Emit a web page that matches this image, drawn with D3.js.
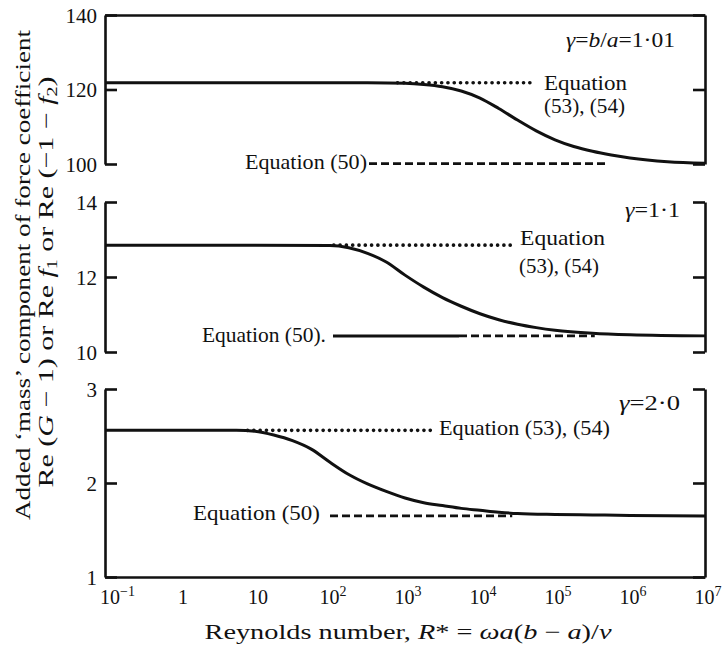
<!DOCTYPE html>
<html><head><meta charset="utf-8">
<script src="https://cdn.jsdelivr.net/npm/d3@7"></script>
<style>
body{margin:0;background:#fff;}
svg{display:block;}
</style></head>
<body>
<svg id="c" width="724" height="648"></svg>
<script>
// ---- data (x as log10 of R*) ----
const xTickExps = [-1,0,1,2,3,4,5,6,7];
const xTickLabels = ["10|-1","1","10","10|2","10|3","10|4","10|5","10|6","10|7"];

// panel 1: gamma = b/a = 1.01
const p1Exp = [-1,0,1,2,2.5,3,3.25,3.5,3.75,4,4.25,4.5,4.75,5,5.25,5.5,5.75,6,6.5,7];
const p1Val = [121.8,121.8,121.8,121.8,121.78,121.65,121.35,120.75,119.6,117.7,114.9,111.8,108.9,106.5,104.7,103.4,102.4,101.6,100.6,100.2];
// panel 2: gamma = 1.1
const p2Exp = [-1,0,1,2,2.25,2.5,2.75,3,3.25,3.5,3.75,4,4.25,4.5,4.75,5,5.5,6,7];
const p2Val = [12.85,12.85,12.85,12.84,12.78,12.63,12.4,12.05,11.73,11.45,11.22,11.02,10.86,10.74,10.65,10.58,10.5,10.46,10.43];
// panel 3: gamma = 2.0
const p3Exp = [-1,0,0.5,0.75,1,1.25,1.5,1.75,2,2.25,2.5,2.75,3,3.25,3.5,3.75,4,4.25,4.5,5,5.5,6,7];
const p3Val = [2.56,2.56,2.56,2.56,2.55,2.51,2.45,2.36,2.22,2.09,1.99,1.91,1.84,1.79,1.76,1.73,1.71,1.69,1.675,1.665,1.66,1.655,1.65];

// asymptote lines: Equation (53),(54) dotted  [fromExp, toExp, level]
const eq5354 = [[2.9,4.7,121.8],[2.05,4.43,12.85],[0.9,3.36,2.56]];
// Equation (50): dashed  [fromExp, toExp, level]
const eq50Dashed = [[2.52,5.72,100.1],[3.72,5.53,10.43],[2.0,4.43,1.65]];
const eq50Solid = [[2.04,3.72,10.43]];

const yTicks1 = [100,120,140], yTicks2 = [10,12,14], yTicks3 = [1,2,3];

// ---- layout ----
const FONT = '"Liberation Serif"';
const svg = d3.select("#c");
const X0 = 105, X1 = 705;
const x = d3.scaleLog().domain([0.1,1e7]).range([X0,X1]);
const ex = e => x(Math.pow(10,e));
const y1 = d3.scaleLinear().domain([100,140]).range([164,15]);
const y2 = d3.scaleLinear().domain([10,14]).range([352,202]);
const y3 = d3.scaleLinear().domain([1,3]).range([577,389]);
const ys = [y1,y2,y3];

const AX = "#111", AW = 2.6;
function T(sel){ return sel.style("font-family",FONT).attr("fill","#111"); }

function leftAxis(y, ticks, labels){
  const g = svg.append("g").attr("transform",`translate(${X0},0)`)
    .call(d3.axisLeft(y).tickValues(ticks).tickSize(-12).tickSizeOuter(0).tickPadding(8)
      .tickFormat((d,i)=>labels[i]));
  g.attr("font-family",null).attr("font-size",null);
  g.select(".domain").attr("stroke",AX).attr("stroke-width",AW);
  g.selectAll(".tick line").attr("stroke",AX).attr("stroke-width",AW);
  T(g.selectAll(".tick text")).attr("font-size",21).attr("dy","0.34em");
  return g;
}
function rightAxis(y, ticks){
  const g = svg.append("g").attr("transform",`translate(${X1},0)`)
    .call(d3.axisRight(y).tickValues(ticks).tickSize(-12).tickSizeOuter(0).tickFormat(""));
  g.select(".domain").attr("stroke",AX).attr("stroke-width",AW);
  g.selectAll(".tick line").attr("stroke",AX).attr("stroke-width",AW);
  return g;
}
leftAxis(y1,yTicks1,["100","120","140"]);
leftAxis(y2,yTicks2,["10","12","14"]);
leftAxis(y3,yTicks3,["1","2","3"]);
rightAxis(y1,yTicks1);
rightAxis(y2,yTicks2);
rightAxis(y3,yTicks3);

// top border of panel 1
const gt = svg.append("g").attr("transform",`translate(0,${y1(140)})`)
  .call(d3.axisTop(x).tickValues([]).tickSizeOuter(0));
gt.select(".domain").attr("stroke",AX).attr("stroke-width",AW);
// bottom axis
const gb = svg.append("g").attr("transform",`translate(0,${y3(1)})`)
  .call(d3.axisBottom(x).tickValues(xTickExps.map(e=>Math.pow(10,e))).tickSize(0).tickSizeOuter(0).tickFormat(""));
gb.select(".domain").attr("stroke",AX).attr("stroke-width",AW);

// x tick labels
xTickLabels.forEach((lab,i)=>{
  const parts = lab.split("|");
  const t = T(svg.append("text")).attr("y",604).attr("font-size",20);
  if(i===0){ t.attr("x",ex(xTickExps[i])-5).attr("text-anchor","start"); }
  else { t.attr("x",ex(xTickExps[i])+3).attr("text-anchor","middle"); }
  t.append("tspan").text(parts[0]);
  if(parts[1]) t.append("tspan").attr("font-size",14).attr("dy",-8).text(parts[1].replace("-","\u2212"));
});

// curves
const line = (y)=>d3.line().x(d=>ex(d[0])).y(d=>y(d[1])).curve(d3.curveMonotoneX);
[[p1Exp,p1Val],[p2Exp,p2Val],[p3Exp,p3Val]].forEach(([e,v],i)=>{
  svg.append("path").datum(e.map((d,j)=>[d,v[j]])).attr("d",line(ys[i]))
    .attr("fill","none").attr("stroke","#111").attr("stroke-width",3);
});
eq5354.forEach((s,i)=>{
  svg.append("path").datum([[s[0],s[2]],[s[1],s[2]]]).attr("d",line(ys[i]))
    .attr("fill","none").attr("stroke","#111").attr("stroke-width",3.6)
    .attr("stroke-linecap","round").attr("stroke-dasharray","0.1 6.2");
});
eq50Dashed.forEach((s,i)=>{
  svg.append("path").datum([[s[0],s[2]],[s[1],s[2]]]).attr("d",line(ys[i]))
    .attr("fill","none").attr("stroke","#111").attr("stroke-width",2.6)
    .attr("stroke-dasharray","8 4");
});
eq50Solid.forEach(s=>{
  svg.append("path").datum([[s[0],s[2]],[s[1],s[2]]]).attr("d",line(y2))
    .attr("fill","none").attr("stroke","#111").attr("stroke-width",3);
});

// annotations
function label(txt,xp,yp,w,size){
  const t = T(svg.append("text")).attr("x",xp).attr("y",yp).attr("font-size",size||21).text(txt);
  if(w) t.attr("textLength",w).attr("lengthAdjust","spacingAndGlyphs");
  return t;
}
label("Equation",544,90,83);
label("(53), (54)",544,113,81);
label("Equation (50)",245,169,122);
label("Equation",520,245,85);
label("(53), (54)",519,273,80);
label("Equation (50).",202,342,124);
label("Equation (53), (54)",439,435,171);
label("Equation (50)",193,520,127);

function gamma(parts,xp,yp,w){
  const t = T(svg.append("text")).attr("x",xp).attr("y",yp).attr("font-size",20);
  parts.forEach(p=>{ const s=t.append("tspan").text(p[0]); if(p[1]) s.attr("font-style","italic"); });
  if(w) t.attr("textLength",w).attr("lengthAdjust","spacingAndGlyphs");
}
gamma([["γ",1],["="],["b",1],["/"],["a",1],["=1·01"]],566,47,109);
gamma([["γ",1],["=1·1"]],625,217,55);
gamma([["γ",1],["=2·0"]],619,410,61);

// y axis title
T(svg.append("text")).attr("transform","translate(30,275) rotate(-90)")
  .attr("text-anchor","middle").attr("font-size",21)
  .attr("textLength",490).attr("lengthAdjust","spacingAndGlyphs")
  .text("Added \u2018mass\u2019 component of force coefficient");
const yt2 = T(svg.append("text")).attr("transform","translate(53,282) rotate(-90)")
  .attr("text-anchor","middle").attr("font-size",21)
  .attr("textLength",411).attr("lengthAdjust","spacingAndGlyphs");
[["Re ("],["G",1],[" \u2212 1) or Re "],["f",1],["1",0,4],[" or Re (\u22121 \u2212 "],["f",1],["2",0,4],[")"]].forEach((p,i,arr)=>{
  const s = yt2.append("tspan").text(p[0]);
  if(p[1]) s.attr("font-style","italic");
  if(p[2]) s.attr("font-size",14).attr("dy",p[2]);
  else if(i>0 && arr[i-1][2]) s.attr("dy",-arr[i-1][2]);
});

// x axis title
const xt = T(svg.append("text")).attr("x",408).attr("y",639).attr("text-anchor","middle").attr("font-size",21)
  .attr("textLength",407).attr("lengthAdjust","spacingAndGlyphs");
[["Reynolds number, "],["R",1],["* = "],["ωa",1],["("],["b",1],[" \u2212 "],["a",1],[")/"],["ν",1]].forEach(p=>{
  const s = xt.append("tspan").text(p[0]); if(p[1]) s.attr("font-style","italic");
});
</script>
</body></html>
